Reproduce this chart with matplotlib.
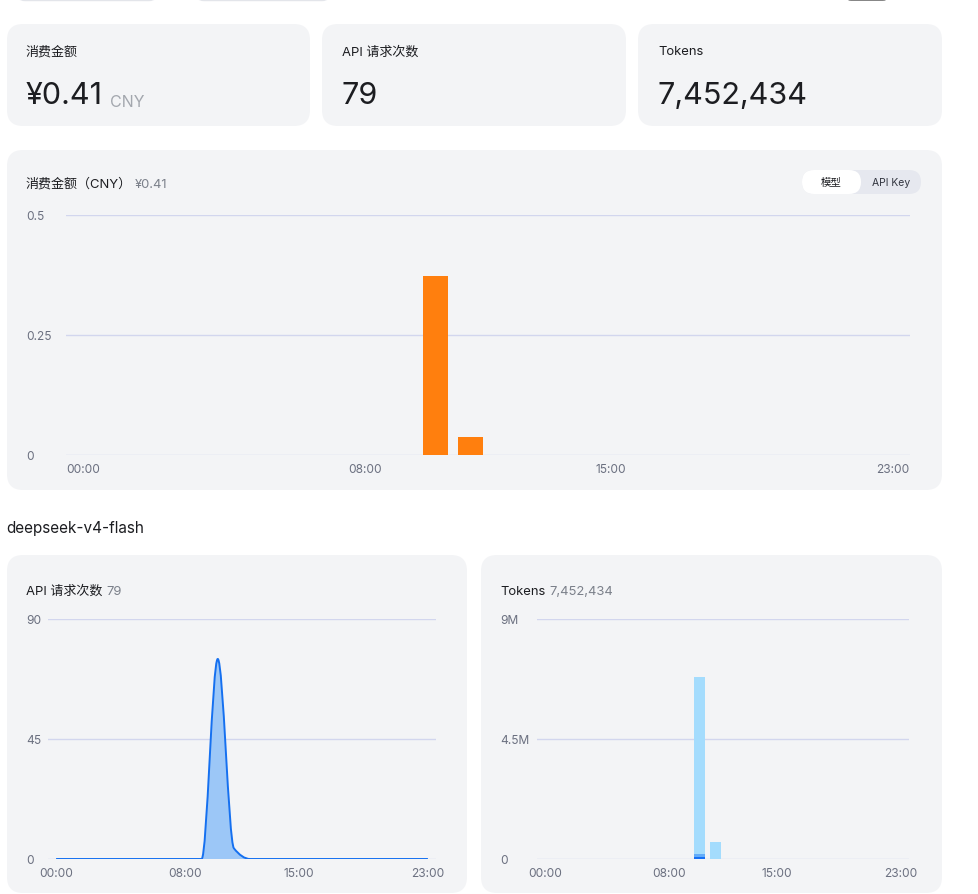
import matplotlib
matplotlib.use("Agg")
import matplotlib.pyplot as plt
from matplotlib.patches import FancyBboxPatch, PathPatch
from matplotlib.path import Path

plt.rcParams['font.family'] = ['Inter', 'Noto Sans CJK SC', 'DejaVu Sans']

# data
hours = list(range(24))
hour_labels = ['00:00', '08:00', '15:00', '23:00']
label_hours = [0, 8, 15, 23]

cost_cny = [0] * 24
cost_cny[10] = 0.373
cost_cny[11] = 0.037

requests = [0] * 24
requests[10] = 75
requests[11] = 4

tokens_cache_hit = [0] * 24
tokens_cache_hit[10] = 75000
tokens_output = [0] * 24
tokens_output[10] = 110000
tokens_cache_miss = [0] * 24
tokens_cache_miss[10] = 6630434
tokens_cache_miss[11] = 637000

W, H = 979, 895
CARD = '#f3f4f6'
GRID = '#d2d6ee'
TICK = '#6b7080'
DARK = '#1c1d21'

fig = plt.figure(figsize=(W / 100, H / 100), dpi=100)
fig.patch.set_facecolor('white')

# background layer in pixel coordinates
bg = fig.add_axes([0, 0, 1, 1])
bg.set_xlim(0, W)
bg.set_ylim(H, 0)
bg.axis('off')


def card(x, y, w, h, color=CARD, r=16):
    bg.add_patch(FancyBboxPatch((x, y), w, h, boxstyle=f'round,pad=0,rounding_size={r}',
                                fc=color, ec='none'))


def two_part(x, y, t1, t2, s1, s2, c1=DARK, c2='#9ea3ab', gap=4):
    a = bg.text(x, y, t1, fontsize=s1, color=c1, va='baseline', ha='left')
    bg.annotate(t2, xy=(1, 0), xycoords=a, xytext=(gap, 0), textcoords='offset points',
                fontsize=s2, color=c2, va='bottom', ha='left')


# cut-off controls at the very top
bg.add_patch(FancyBboxPatch((17, -20), 140, 21.5, boxstyle='round,pad=0,rounding_size=8',
                            fc='white', ec='#e3e5ea', lw=1))
bg.add_patch(FancyBboxPatch((196, -20), 134, 21.5, boxstyle='round,pad=0,rounding_size=8',
                            fc='white', ec='#e3e5ea', lw=1))
bg.add_patch(FancyBboxPatch((843, -20), 48, 21.5, boxstyle='round,pad=0,rounding_size=8',
                            fc='#111111', ec='none'))

# summary cards
card(7, 25, 303, 102)
card(322, 25, 304, 102)
card(638, 25, 304, 102)
bg.text(26, 52, '消费金额', fontsize=9.4, color=DARK, va='center')
bg.text(342, 52, 'API 请求次数', fontsize=9.4, color=DARK, va='center')
bg.text(658, 52, 'Tokens', fontsize=9.4, color=DARK, va='center')
two_part(26, 104, '¥0.41', 'CNY', 22, 11.5, c2='#a3a7ae', gap=5)
bg.text(342, 104, '79', fontsize=22, color=DARK, va='baseline')
bg.text(658, 104, '7,452,434', fontsize=22, color=DARK, va='baseline')

# main cost chart card
card(7, 151, 935, 340)
two_part(26, 188, '消费金额（CNY）', '¥0.41', 9.4, 9.4, c2='#7b808a', gap=2)
card(802, 171, 119, 24, color='#e6e8ef', r=12)
card(802, 171, 59, 24, color='white', r=12)
bg.text(831, 183, '模型', fontsize=7.5, color=DARK, ha='center', va='center')
bg.text(891, 183, 'API Key', fontsize=7.5, color='#333640', ha='center', va='center')

bg.text(6, 528, 'deepseek-v4-flash', fontsize=11, color=DARK, va='center')

card(7, 556, 460, 338)
card(481, 556, 461, 338)
two_part(26, 595, 'API 请求次数', '79', 9.4, 9.4, c2='#7b808a', gap=3)
two_part(500, 595, 'Tokens', '7,452,434', 9.4, 9.4, c2='#7b808a', gap=3)


def chart_axes(left, top, right, bottom, label_x):
    ax = fig.add_axes([left / W, 1 - bottom / H, (right - left) / W, (bottom - top) / H])
    ax.patch.set_alpha(0)
    for s in ax.spines.values():
        s.set_visible(False)
    ax.set_xlim(-0.5, 23.5)
    ax.set_xticks(label_hours)
    ax.set_xticklabels(hour_labels)
    ax.tick_params(length=0, labelsize=8.6, labelcolor=TICK)
    ax.tick_params(axis='x', pad=6)
    ax.tick_params(axis='y', pad=(left - label_x) * 0.72)
    ax.yaxis.grid(True, color=GRID, lw=1)
    ax.set_axisbelow(True)
    return ax


# cost bars
ax1 = chart_axes(66, 216, 910, 456, 26)
ax1.bar(hours, cost_cny, width=0.7, color='#ff7f0e', zorder=3)
ax1.set_ylim(0, 0.5)
ax1.set_yticks([0, 0.25, 0.5])
ax1.set_yticklabels(['0', '0.25', '0.5'])
for t in ax1.get_yticklabels():
    t.set_ha('left')

# request curve (smooth bezier through hourly points)
ax2 = chart_axes(48, 620, 436, 860, 26)
ax2.set_ylim(0, 90)
ax2.set_yticks([0, 45, 90])
ax2.set_yticklabels(['0', '45', '90'])
for t in ax2.get_yticklabels():
    t.set_ha('left')

n = len(hours)
d = [requests[i + 1] - requests[i] for i in range(n - 1)]
m = [0.0] * n
for i in range(1, n - 1):
    if d[i - 1] * d[i] > 0:
        m[i] = 2 * d[i - 1] * d[i] / (d[i - 1] + d[i])
verts = [(hours[0], requests[0])]
codes = [Path.MOVETO]
for i in range(n - 1):
    verts += [(hours[i] + 1 / 3, requests[i] + m[i] / 3),
              (hours[i + 1] - 1 / 3, requests[i + 1] - m[i + 1] / 3),
              (hours[i + 1], requests[i + 1])]
    codes += [Path.CURVE4] * 3
fill_verts = verts + [(hours[-1], 0), (hours[0], 0), (hours[0], requests[0])]
fill_codes = codes + [Path.LINETO, Path.LINETO, Path.CLOSEPOLY]
ax2.add_patch(PathPatch(Path(fill_verts, fill_codes), fc='#9cc7f7', ec='none', zorder=2))
ax2.add_patch(PathPatch(Path(verts, codes), fc='none', ec='#1570f0', lw=1.4, zorder=3))

# token stacked bars
ax3 = chart_axes(537, 620, 909, 860, 500)
ax3.set_ylim(0, 9e6)
ax3.set_yticks([0, 4.5e6, 9e6])
ax3.set_yticklabels(['0', '4.5M', '9M'])
for t in ax3.get_yticklabels():
    t.set_ha('left')
b1 = tokens_cache_hit
b2 = [a + b for a, b in zip(tokens_cache_hit, tokens_output)]
ax3.bar(hours, tokens_cache_hit, width=0.7, color='#1670f5', zorder=3)
ax3.bar(hours, tokens_output, width=0.7, bottom=b1, color='#63acf9', zorder=3)
ax3.bar(hours, tokens_cache_miss, width=0.7, bottom=b2, color='#a4dcfd', zorder=3)

fig.savefig('out.png', dpi=100, facecolor='white')
